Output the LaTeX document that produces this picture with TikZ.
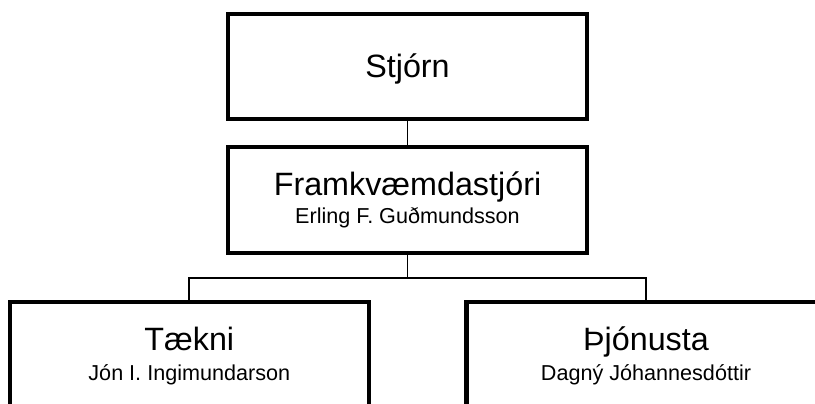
\documentclass[tikz,border=0pt]{standalone}
\usepackage{fontspec}
\setmainfont{Liberation Sans}
\begin{document}
\begin{tikzpicture}[x=1pt,y=1pt,
  orgbox/.style={draw=black,line width=4.2pt,rectangle,minimum width=359pt,minimum height=106pt,inner sep=0pt,fill=white},
  titletext/.style={anchor=base,inner sep=0pt,font=\fontsize{32.3}{36}\selectfont},
  subtext/.style={anchor=base,inner sep=0pt,font=\fontsize{21.6}{25}\selectfont},
  conn/.style={draw=black,line width=1.8pt}]
\clip (0,0) rectangle (815,404);
\fill[white] (0,0) rectangle (815,404);
\node[orgbox,minimum height=105pt] (stj) at (407.5,337.5) {};
\node[orgbox] (fram) at (407.5,204) {};
\node[orgbox] (taek) at (189.3,49) {};
\node[orgbox] (thjo) at (646,49) {};
\coordinate (bus) at (407.5,126);
\draw[conn] (stj.south) -- (fram.north);
\draw[conn] (fram.south) -- (bus);
\draw[conn] (bus) -| (taek.north);
\draw[conn] (bus) -| (thjo.north);
\node[titletext] (stjt) at ([yshift=-11.5pt]stj.center) {Stjórn};
\node[titletext] (framt) at ([yshift=-50.7pt]fram.north) {Framkvæmdastjóri};
\node[subtext] (frams) at ([yshift=-79pt]fram.north) {Erling F. Guðmundsson};
\node[titletext] (taekt) at ([yshift=-51pt]taek.north) {Tækni};
\node[subtext] (taeks) at ([yshift=-81pt]taek.north) {Jón I. Ingimundarson};
\node[titletext] (thjot) at ([yshift=-51pt]thjo.north) {Þjónusta};
\node[subtext] (thjos) at ([yshift=-81pt]thjo.north) {Dagný Jóhannesdóttir};
\end{tikzpicture}
\end{document}
